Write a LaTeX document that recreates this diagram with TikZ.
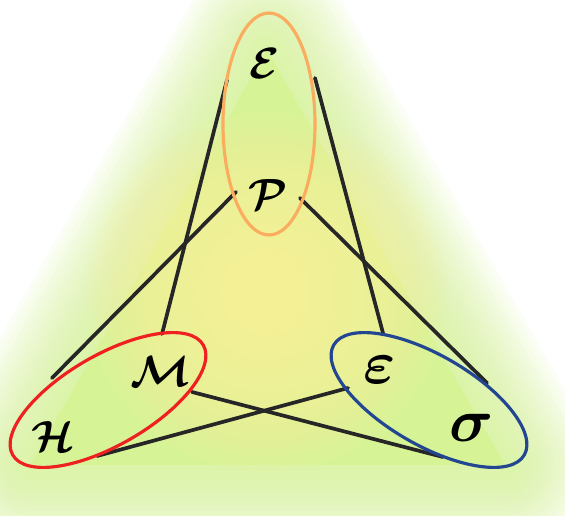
\documentclass[tikz,border=0pt]{standalone}
\usepackage{amsmath,amssymb}
\usepackage{bm}
\usetikzlibrary{positioning}

\definecolor{glowgreen}{RGB}{214,244,150}
\definecolor{coreyellow}{RGB}{255,240,158}
\definecolor{setorange}{RGB}{250,172,95}
\definecolor{setred}{RGB}{238,32,32}
\definecolor{setblue}{RGB}{35,70,145}

\begin{document}
\begin{tikzpicture}[x=0.02cm, y=-0.02cm,
    letter/.style={font=\Huge, inner sep=0pt},
    small letter/.style={font=\Huge, inner sep=0pt, scale=1.4},
    stroke/.style={line width=2.1pt, black!85, line cap=round},
    rim/.style={line width=1.8pt}]
        % Background
        \fill[white] (0,0) rectangle (565,516);
        \useasboundingbox (0,0) rectangle (565,516);
        
        % Glow
        \foreach \w in {180,170,...,10}
            \draw[glowgreen, opacity=0.08, line width=\w*0.567pt, line join=round] (267,50) -- (30,465) -- (505,465) -- cycle;
        \fill[glowgreen] (267,50) -- (30,465) -- (505,465) -- cycle;
        \foreach \r in {180,172,...,20}
            \fill[coreyellow, opacity=0.09] (266,292) circle (\r);
        
        % Letters
        \node[letter] (E) at (265,64) {$\bm{\mathcal{E}}$};
        \node[letter] (P) at (268,195) {$\bm{\mathcal{P}}$};
        \node[letter] (M) at (161,372) {$\bm{\mathcal{M}}$};
        \node[letter] (H) at (53,437) {$\bm{\mathcal{H}}$};
        \node[small letter] (eps) at (380,370) {$\bm{\varepsilon}$};
        \node[small letter] (sig) at (472,428) {$\bm{\sigma}$};
        
        % Line ends
        \coordinate (E-l) at (227,80);
        \coordinate (E-r) at (315,78);
        \coordinate (P-l) at (236,192);
        \coordinate (P-r) at (300,198);
        \coordinate (M-t) at (162,334);
        \coordinate (M-r) at (192,392);
        \coordinate (H-t) at (52,378);
        \coordinate (H-b) at (97,456);
        \coordinate (eps-t) at (383,333);
        \coordinate (eps-l) at (348,388);
        \coordinate (sig-t) at (487,383);
        \coordinate (sig-b) at (443,457);
        
        % Lines
        \draw[stroke] (E-l) -- (M-t);
        \draw[stroke] (P-l) -- (H-t);
        \draw[stroke] (E-r) -- (eps-t);
        \draw[stroke] (P-r) -- (sig-t);
        \draw[stroke] (M-r) -- (sig-b);
        \draw[stroke] (eps-l) -- (H-b);
        
        % Sets
        \draw[setorange, rim] (269,124) ellipse [x radius=46, y radius=111];
        \draw[setred, rim, rotate around={30:(108,400)}] (108,400) ellipse [x radius=110, y radius=45];
        \draw[setblue, rim, rotate around={-30:(429,400)}] (429,400) ellipse [x radius=110, y radius=45];
    \end{tikzpicture}
\end{document}
